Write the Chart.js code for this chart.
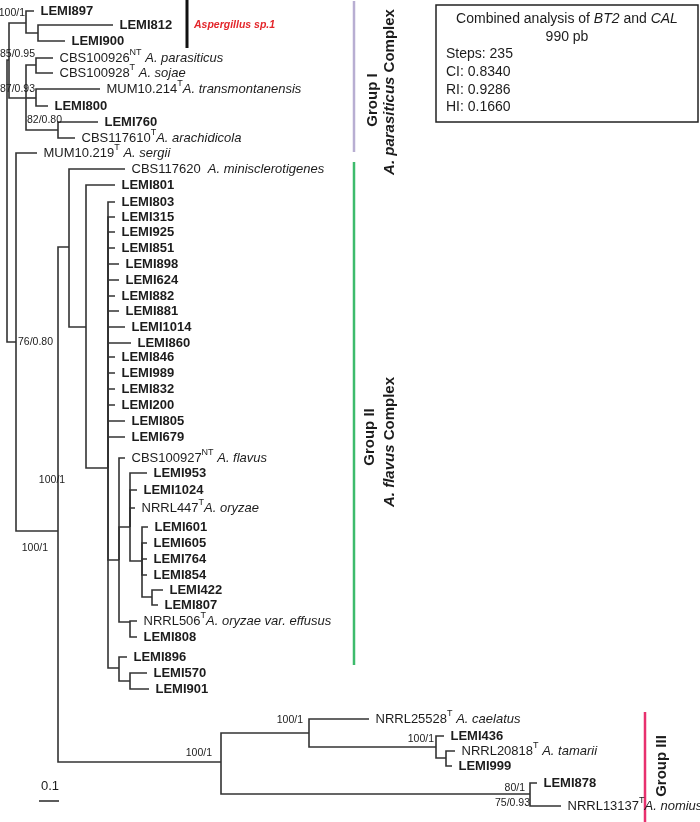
<!DOCTYPE html>
<html>
<head>
<meta charset="utf-8">
<script src="https://cdn.jsdelivr.net/npm/chart.js@4.4.1/dist/chart.umd.min.js"></script>
<style>
  html, body { margin: 0; padding: 0; background: #fff; }
  #wrap { width: 700px; height: 822px; }
</style>
</head>
<body>
<div id="wrap"><canvas id="tree" width="700" height="822"></canvas></div>
<script>
// Internal nodes: depth = distance from root (subst./site), row = vertical position
const nodeIds    = ['R', 'G1', 'A', 'A2', 'BC', 'B', 'C', 'D', 'N76', 'N100', 'G2', 'N86', 'P', 'F', 'H', 'I', 'J', 'NE', 'K', 'L', 'G3', 'N309', 'N436', 'N446', 'N530'];
const nodeParent = [null, 'R', 'G1', 'A', 'G1', 'BC', 'BC', 'BC', 'R', 'N76', 'N100', 'G2', 'N86', 'P', 'F', 'H', 'I', 'F', 'P', 'K', 'N100', 'G3', 'N309', 'N436', 'G3'];
const nodeDepth  = [0, 0.010, 0.095, 0.155, 0.095, 0.145, 0.145, 0.255, 0.045, 0.255, 0.310, 0.395, 0.505, 0.560, 0.615, 0.675, 0.725, 0.615, 0.560, 0.615, 1.070, 1.510, 2.145, 2.195, 2.615];
const nodeRow    = [201, 60, 23, 33, 98, 65, 98, 130, 342, 531, 247, 327, 468, 560, 527, 561, 597, 622, 668, 681, 762, 733, 747, 758, 794];

// Terminal taxa
const tipCode = ['LEMI897', 'LEMI812', 'LEMI900', 'CBS100926', 'CBS100928', 'MUM10.214', 'LEMI800', 'LEMI760', 'CBS117610', 'MUM10.219',
  'CBS117620', 'LEMI801', 'LEMI803', 'LEMI315', 'LEMI925', 'LEMI851', 'LEMI898', 'LEMI624', 'LEMI882', 'LEMI881',
  'LEMI1014', 'LEMI860', 'LEMI846', 'LEMI989', 'LEMI832', 'LEMI200', 'LEMI805', 'LEMI679', 'CBS100927', 'LEMI953',
  'LEMI1024', 'NRRL447', 'LEMI601', 'LEMI605', 'LEMI764', 'LEMI854', 'LEMI422', 'LEMI807', 'NRRL506', 'LEMI808',
  'LEMI896', 'LEMI570', 'LEMI901', 'NRRL25528', 'LEMI436', 'NRRL20818', 'LEMI999', 'LEMI878', 'NRRL13137'];
const tipSup = ['', '', '', 'NT', 'T', 'T', '', '', 'T', 'T',
  '', '', '', '', '', '', '', '', '', '',
  '', '', '', '', '', '', '', '', 'NT', '',
  '', 'T', '', '', '', '', '', '', 'T', '',
  '', '', '', 'T', '', 'T', '', '', 'T'];
const tipSpecies = ['', '', '', ' A. parasiticus', ' A. sojae', 'A. transmontanensis', '', '', 'A. arachidicola', ' A. sergii',
  '  A. minisclerotigenes', '', '', '', '', '', '', '', '', '',
  '', '', '', '', '', '', '', '', ' A. flavus', '',
  '', 'A. oryzae', '', '', '', '', '', '', 'A. oryzae var. effusus', '',
  '', '', '', ' A. caelatus', '', ' A. tamarii', '', '', 'A. nomius'];
const tipParent = ['A', 'A2', 'A2', 'B', 'B', 'C', 'C', 'D', 'D', 'N76',
  'G2', 'N86', 'P', 'P', 'P', 'P', 'P', 'P', 'P', 'P',
  'P', 'P', 'P', 'P', 'P', 'P', 'P', 'P', 'F', 'H',
  'H', 'H', 'I', 'I', 'I', 'I', 'J', 'J', 'NE', 'NE',
  'K', 'L', 'L', 'N309', 'N436', 'N446', 'N446', 'N530', 'N530'];
const tipDepth = [0.135, 0.530, 0.290, 0.230, 0.230, 0.465, 0.205, 0.455, 0.340, 0.150,
  0.590, 0.540, 0.540, 0.540, 0.540, 0.540, 0.560, 0.560, 0.540, 0.560,
  0.590, 0.620, 0.540, 0.540, 0.540, 0.540, 0.590, 0.590, 0.590, 0.700,
  0.650, 0.640, 0.705, 0.700, 0.700, 0.700, 0.780, 0.755, 0.650, 0.650,
  0.600, 0.700, 0.710, 1.810, 2.185, 2.240, 2.225, 2.650, 2.770];
const tipRow = [11, 25, 41, 58, 73, 89, 106, 122, 138, 153,
  169, 185, 202, 217, 232, 248, 264, 280, 296, 311,
  327, 343, 357, 373, 389, 405, 421, 437, 458, 473,
  490, 508, 527, 543, 559, 575, 590, 605, 621, 637,
  657, 673, 689, 719, 736, 751, 766, 783, 806];

// Bootstrap / posterior probability values
const supportNode = ['A', 'B', 'C', 'D', 'N76', 'N100', 'N100', 'G3', 'N309', 'N436', 'N530', 'N530'];
const supportText = ['100/1', '85/0.95', '87/0.93', '82/0.80', '76/0.80', '100/1', '100/1', '100/1', '100/1', '100/1', '80/1', '75/0.93'];

const scaleBarLength = 0.1;
const infoTitle = ['Combined analysis of ', 'BT2', ' and ', 'CAL'];
const infoLines = ['990 pb', 'Steps: 235', 'CI: 0.8340', 'RI: 0.9286', 'HI: 0.1660'];

// ---- layout / style ----
const FONT = "'Liberation Sans', Arial, Helvetica, sans-serif";
const LINE_COLOR = '#333';
const TEXT_COLOR = '#1c1c1c';
const LABEL_GAP = 6.5;
// [dx, dy, align] in pixels relative to the node
const supportPlace = [[-1, -10, 'right'], [-1, -11, 'right'], [-1, -9, 'right'], [4, -10, 'right'], [2, 0, 'left'],
  [-6, -51, 'center'], [-10, 17, 'right'], [-9, -9, 'right'], [-6, -13, 'right'], [-2, -8, 'right'], [-5, -6, 'right'], [0, 9, 'right']];
const cladeBars = [
  { x: 0.900, from: 0, to: 48, color: '#111', width: 3 },
  { x: 1.735, from: 1, to: 152, color: '#b8aed2', width: 2.5 },
  { x: 1.735, from: 162, to: 665, color: '#3dbb6c', width: 2.5 },
  { x: 3.190, from: 712, to: 822, color: '#e8306e', width: 2.5 }
];

const nodeIndex = id => nodeIds.indexOf(id);

// build elbow segments, one dataset per branch
const datasets = [];
function addBranch(parentId, depth, row) {
  const p = nodeIndex(parentId);
  datasets.push({
    data: [
      { x: nodeDepth[p], y: nodeRow[p] },
      { x: nodeDepth[p], y: row },
      { x: depth, y: row }
    ],
    showLine: true,
    borderColor: LINE_COLOR,
    borderWidth: 1.6,
    pointRadius: 0,
    borderJoinStyle: 'miter',
    fill: false
  });
}
nodeIds.forEach((id, i) => {
  if (nodeParent[i]) addBranch(nodeParent[i], nodeDepth[i], nodeRow[i]);
});
tipCode.forEach((c, i) => addBranch(tipParent[i], tipDepth[i], tipRow[i]));

// scale bar
datasets.push({
  data: [{ x: 0.16, y: 801 }, { x: 0.16 + scaleBarLength, y: 801 }],
  showLine: true, borderColor: LINE_COLOR, borderWidth: 1.6, pointRadius: 0
});
// clade bars
cladeBars.forEach(b => {
  datasets.push({
    data: [{ x: b.x, y: b.from }, { x: b.x, y: b.to }],
    showLine: true, borderColor: b.color, borderWidth: b.width, pointRadius: 0
  });
});

function drawRotated(ctx, text, x, y, font, align) {
  ctx.save();
  ctx.translate(x, y);
  ctx.rotate(-Math.PI / 2);
  ctx.font = font;
  ctx.textAlign = align || 'center';
  ctx.textBaseline = 'middle';
  ctx.fillText(text, 0, 0);
  ctx.restore();
}

const labelPlugin = {
  id: 'treeLabels',
  afterDatasetsDraw(chart) {
    const ctx = chart.ctx;
    const sx = v => chart.scales.x.getPixelForValue(v);
    const sy = v => chart.scales.y.getPixelForValue(v);
    ctx.save();
    ctx.fillStyle = TEXT_COLOR;
    ctx.textBaseline = 'middle';

    // tip labels
    tipCode.forEach((code, i) => {
      let x = sx(tipDepth[i]) + LABEL_GAP;
      const y = sy(tipRow[i]);
      ctx.textAlign = 'left';
      if (!tipSpecies[i]) {
        ctx.font = 'bold 13px ' + FONT;
        ctx.fillText(code, x, y);
        return;
      }
      ctx.font = '13px ' + FONT;
      ctx.fillText(code, x, y);
      x += ctx.measureText(code).width;
      if (tipSup[i]) {
        ctx.font = '9px ' + FONT;
        ctx.fillText(tipSup[i], x, y - 5);
        x += ctx.measureText(tipSup[i]).width;
      }
      ctx.font = 'italic 13px ' + FONT;
      ctx.fillText(tipSpecies[i], x, y);
    });

    // support values
    ctx.font = '10.5px ' + FONT;
    supportNode.forEach((id, i) => {
      const n = nodeIndex(id);
      const [dx, dy, align] = supportPlace[i];
      ctx.textAlign = align;
      ctx.fillText(supportText[i], sx(nodeDepth[n]) + dx, sy(nodeRow[n]) + dy);
    });

    // scale bar label
    ctx.font = '13px ' + FONT;
    ctx.textAlign = 'center';
    ctx.fillText(String(scaleBarLength), sx(0.16 + scaleBarLength / 2) + 1, sy(786));

    // Aspergillus sp.1 label
    ctx.fillStyle = '#e3262b';
    ctx.font = 'italic bold 10.5px ' + FONT;
    ctx.textAlign = 'left';
    ctx.fillText('Aspergillus sp.1', sx(0.935), sy(25));

    // group labels
    ctx.fillStyle = TEXT_COLOR;
    const gFont = 'bold 15px ' + FONT;
    const giFont = 'italic bold 15px ' + FONT;
    drawRotated(ctx, 'Group I', sx(1.83), sy(100), gFont);
    ctx.save();
    ctx.translate(sx(1.915), sy(92));
    ctx.rotate(-Math.PI / 2);
    ctx.textBaseline = 'middle';
    ctx.font = giFont;
    const p1 = 'A. parasiticus';
    const w1 = ctx.measureText(p1).width;
    ctx.font = gFont;
    const p2 = ' Complex';
    const w2 = ctx.measureText(p2).width;
    ctx.textAlign = 'left';
    ctx.font = giFont;
    ctx.fillText(p1, -(w1 + w2) / 2, 0);
    ctx.font = gFont;
    ctx.fillText(p2, -(w1 + w2) / 2 + w1, 0);
    ctx.restore();

    drawRotated(ctx, 'Group II', sx(1.815), sy(437), gFont);
    ctx.save();
    ctx.translate(sx(1.915), sy(442));
    ctx.rotate(-Math.PI / 2);
    ctx.textBaseline = 'middle';
    ctx.font = giFont;
    const q1 = 'A. flavus';
    const v1 = ctx.measureText(q1).width;
    ctx.font = gFont;
    const v2 = ctx.measureText(p2).width;
    ctx.textAlign = 'left';
    ctx.font = giFont;
    ctx.fillText(q1, -(v1 + v2) / 2, 0);
    ctx.font = gFont;
    ctx.fillText(p2, -(v1 + v2) / 2 + v1, 0);
    ctx.restore();

    drawRotated(ctx, 'Group III', sx(3.275), sy(766), gFont);

    // info box
    const bx0 = sx(2.145), bx1 = sx(3.455), by0 = sy(5), by1 = sy(122);
    ctx.strokeStyle = '#222';
    ctx.lineWidth = 1.5;
    ctx.strokeRect(bx0, by0, bx1 - bx0, by1 - by0);
    ctx.font = '14px ' + FONT;
    let tw = 0;
    infoTitle.forEach((t, i) => {
      ctx.font = (i % 2 ? 'italic ' : '') + '14px ' + FONT;
      tw += ctx.measureText(t).width;
    });
    let tx = (bx0 + bx1) / 2 - tw / 2;
    ctx.textAlign = 'left';
    infoTitle.forEach((t, i) => {
      ctx.font = (i % 2 ? 'italic ' : '') + '14px ' + FONT;
      ctx.fillText(t, tx, sy(19));
      tx += ctx.measureText(t).width;
    });
    ctx.font = '14px ' + FONT;
    ctx.textAlign = 'center';
    ctx.fillText(infoLines[0], (bx0 + bx1) / 2, sy(37));
    ctx.textAlign = 'left';
    const rows = [54, 72, 90, 107];
    infoLines.slice(1).forEach((t, i) => ctx.fillText(t, bx0 + 10, sy(rows[i])));
    ctx.restore();
  }
};

new Chart(document.getElementById('tree'), {
  type: 'scatter',
  data: { datasets: datasets },
  options: {
    responsive: false,
    animation: false,
    layout: { padding: 0 },
    plugins: { legend: { display: false }, tooltip: { enabled: false } },
    elements: { point: { radius: 0 }, line: { tension: 0 } },
    scales: {
      x: { type: 'linear', display: false, min: -0.035, max: 3.465 },
      y: { type: 'linear', display: false, min: 0, max: 822, reverse: true }
    }
  },
  plugins: [labelPlugin]
});
</script>
</body>
</html>
